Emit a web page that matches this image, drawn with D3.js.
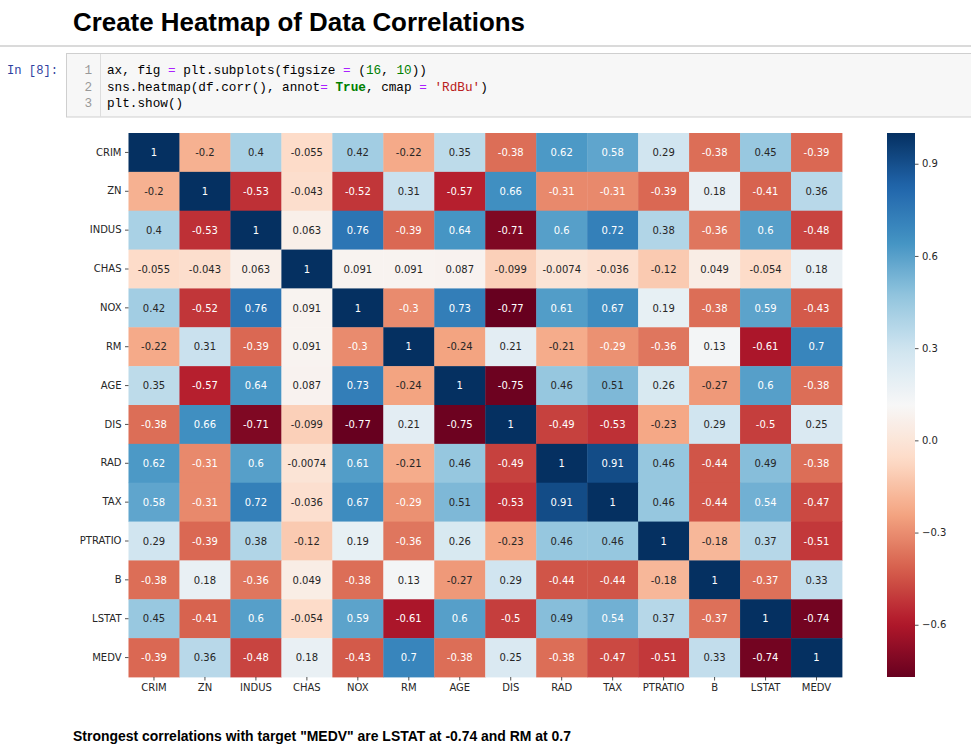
<!DOCTYPE html>
<html>
<head>
<meta charset="utf-8">
<script src="https://cdn.jsdelivr.net/npm/d3@7"></script>
<style>
  html, body { margin: 0; padding: 0; background: #ffffff; }
  svg { display: block; }
</style>
</head>
<body>
<svg id="page" width="971" height="752"></svg>
<script>
// ---------- data ----------
const variables = ["CRIM","ZN","INDUS","CHAS","NOX","RM","AGE","DIS","RAD","TAX","PTRATIO","B","LSTAT","MEDV"];
const corr = [
  [1, -0.2, 0.4, -0.055, 0.42, -0.22, 0.35, -0.38, 0.62, 0.58, 0.29, -0.38, 0.45, -0.39],
  [-0.2, 1, -0.53, -0.043, -0.52, 0.31, -0.57, 0.66, -0.31, -0.31, -0.39, 0.18, -0.41, 0.36],
  [0.4, -0.53, 1, 0.063, 0.76, -0.39, 0.64, -0.71, 0.6, 0.72, 0.38, -0.36, 0.6, -0.48],
  [-0.055, -0.043, 0.063, 1, 0.091, 0.091, 0.087, -0.099, -0.0074, -0.036, -0.12, 0.049, -0.054, 0.18],
  [0.42, -0.52, 0.76, 0.091, 1, -0.3, 0.73, -0.77, 0.61, 0.67, 0.19, -0.38, 0.59, -0.43],
  [-0.22, 0.31, -0.39, 0.091, -0.3, 1, -0.24, 0.21, -0.21, -0.29, -0.36, 0.13, -0.61, 0.7],
  [0.35, -0.57, 0.64, 0.087, 0.73, -0.24, 1, -0.75, 0.46, 0.51, 0.26, -0.27, 0.6, -0.38],
  [-0.38, 0.66, -0.71, -0.099, -0.77, 0.21, -0.75, 1, -0.49, -0.53, -0.23, 0.29, -0.5, 0.25],
  [0.62, -0.31, 0.6, -0.0074, 0.61, -0.21, 0.46, -0.49, 1, 0.91, 0.46, -0.44, 0.49, -0.38],
  [0.58, -0.31, 0.72, -0.036, 0.67, -0.29, 0.51, -0.53, 0.91, 1, 0.46, -0.44, 0.54, -0.47],
  [0.29, -0.39, 0.38, -0.12, 0.19, -0.36, 0.26, -0.23, 0.46, 0.46, 1, -0.18, 0.37, -0.51],
  [-0.38, 0.18, -0.36, 0.049, -0.38, 0.13, -0.27, 0.29, -0.44, -0.44, -0.18, 1, -0.37, 0.33],
  [0.45, -0.41, 0.6, -0.054, 0.59, -0.61, 0.6, -0.5, 0.49, 0.54, 0.37, -0.37, 1, -0.74],
  [-0.39, 0.36, -0.48, 0.18, -0.43, 0.7, -0.38, 0.25, -0.38, -0.47, -0.51, 0.33, -0.74, 1]
];
const cbarTicks = [-0.6, -0.3, 0.0, 0.3, 0.6, 0.9];
const rdbuColors = ["#67001f","#b2182b","#d6604d","#f4a582","#fddbc7","#f7f7f7","#d1e5f0","#92c5de","#4393c3","#2166ac","#053061"];
const titleText = "Create Heatmap of Data Correlations";
const promptText = "In [8]:";
const codeLines = [
  [["ax, fig ","#000"],["=","#AA22FF"],[" plt.subplots(figsize ","#000"],["=","#AA22FF"],[" (","#000"],["16","#008000"],[", ","#000"],["10","#008000"],["))","#000"]],
  [["sns.heatmap(df.corr(), annot","#000"],["=","#AA22FF"],[" ","#000"],["True","#008000","bold"],[", cmap ","#000"],["=","#AA22FF"],[" ","#000"],["'RdBu'","#BA2121"],[")","#000"]],
  [["plt.show()","#000"]]
];
const footerText = "Strongest correlations with target \"MEDV\" are LSTAT at -0.74 and RM at 0.7";

// ---------- page ----------
const svg = d3.select("#page");
const mono = "'Liberation Mono', 'DejaVu Sans Mono', monospace";

svg.append("text").attr("x", 73).attr("y", 31)
  .attr("font-family", "'Liberation Sans', Arial, sans-serif")
  .attr("font-weight", "bold").attr("font-size", 26)
  .attr("textLength", 452).attr("lengthAdjust", "spacingAndGlyphs")
  .attr("fill", "#000").text(titleText);

svg.append("rect").attr("x", 0).attr("y", 45.5).attr("width", 971).attr("height", 1).attr("fill", "#b5b5b5");

// code cell
svg.append("rect").attr("x", 66.5).attr("y", 53.5).attr("width", 920).attr("height", 63.5)
  .attr("fill", "#f7f7f7").attr("stroke", "#cfcfcf").attr("stroke-width", 1);
svg.append("line").attr("x1", 100.5).attr("x2", 100.5).attr("y1", 54).attr("y2", 117)
  .attr("stroke", "#dddddd").attr("stroke-width", 1);

svg.append("text").attr("x", 7).attr("y", 74)
  .attr("font-family", mono).attr("font-size", 12.7)
  .attr("textLength", 51).attr("lengthAdjust", "spacingAndGlyphs")
  .attr("fill", "#303F9F").text(promptText);

const lineBase = [74, 90.7, 107.4];
codeLines.forEach((segs, i) => {
  svg.append("text").attr("x", 92).attr("y", lineBase[i]).attr("text-anchor", "end")
    .attr("font-family", mono).attr("font-size", 12.7).attr("fill", "#999999").text(i + 1);
  const t = svg.append("text").attr("x", 107).attr("y", lineBase[i])
    .attr("font-family", mono).attr("font-size", 12.7).attr("xml:space", "preserve")
    .style("white-space", "pre");
  segs.forEach(s => {
    t.append("tspan").attr("fill", s[1]).attr("font-weight", s[2] || "normal").text(s[0]);
  });
});

// ---------- heatmap ----------
const vmin = d3.min(corr.flat()), vmax = d3.max(corr.flat());
const x = d3.scaleBand().domain(variables).range([128.5, 842]);
const y = d3.scaleBand().domain(variables).range([133, 677]);

const baseCmap = d3.scaleLinear()
  .domain(d3.range(rdbuColors.length).map(i => i / (rdbuColors.length - 1)))
  .range(rdbuColors).interpolate(d3.interpolateRgb);
function color(v) {
  let t = (v - vmin) / (vmax - vmin);
  let k = Math.min(255, Math.max(0, Math.floor(t * 256)));
  return baseCmap(k / 255);
}
function luminance(c) {
  const rgb = d3.rgb(c);
  const lin = [rgb.r, rgb.g, rgb.b].map(u => {
    u = u / 255;
    return u <= 0.03928 ? u / 12.92 : Math.pow((u + 0.055) / 1.055, 2.4);
  });
  return 0.2126 * lin[0] + 0.7152 * lin[1] + 0.0722 * lin[2];
}
const annotFmt = d3.format(".2~g");

const cells = [];
corr.forEach((row, i) => row.forEach((v, j) => cells.push({r: variables[i], c: variables[j], v})));

const g = svg.append("g");
g.selectAll("rect.cell").data(cells).enter().append("rect")
  .attr("class", "cell")
  .attr("x", d => x(d.c)).attr("y", d => y(d.r))
  .attr("width", x.bandwidth() + 0.4).attr("height", y.bandwidth() + 0.4)
  .attr("fill", d => color(d.v));

g.selectAll("text.annot").data(cells).enter().append("text")
  .attr("class", "annot")
  .attr("x", d => x(d.c) + x.bandwidth() / 2)
  .attr("y", d => y(d.r) + y.bandwidth() / 2 + 3.7)
  .attr("text-anchor", "middle")
  .attr("font-family", "'DejaVu Sans', sans-serif").attr("font-size", 10)
  .attr("fill", d => luminance(color(d.v)) > 0.408 ? "#262626" : "#ffffff")
  .text(d => annotFmt(d.v).replace("\u2212", "-"));

const tickColor = "#262626";
function styleAxis(sel) {
  sel.select(".domain").remove();
  sel.selectAll("text").attr("font-family", "'DejaVu Sans', sans-serif").attr("font-size", 10).attr("fill", tickColor);
  sel.selectAll("line").attr("stroke", tickColor).attr("stroke-width", 0.8);
}

svg.append("g").attr("transform", "translate(128.5,0)")
  .call(d3.axisLeft(y).tickSize(3.5).tickPadding(3.5))
  .call(styleAxis);
svg.append("g").attr("transform", "translate(0,677)")
  .call(d3.axisBottom(x).tickSize(3.5).tickPadding(3.5))
  .call(styleAxis);

// ---------- colorbar ----------
const cbX = 887, cbW = 28;
const yc = d3.scaleLinear().domain([vmin, vmax]).range([677, 133]);
const defs = svg.append("defs");
const grad = defs.append("linearGradient").attr("id", "cbgrad")
  .attr("x1", 0).attr("y1", 1).attr("x2", 0).attr("y2", 0);
d3.range(0, 257, 4).forEach(k => {
  const t = Math.min(1, k / 256);
  grad.append("stop").attr("offset", t).attr("stop-color", baseCmap(t));
});
svg.append("rect").attr("x", cbX).attr("y", yc(vmax)).attr("width", cbW)
  .attr("height", yc(vmin) - yc(vmax)).attr("fill", "url(#cbgrad)");
svg.append("g").attr("transform", `translate(${cbX + cbW},0)`)
  .call(d3.axisRight(yc).tickValues(cbarTicks).tickFormat(d3.format(".1f")).tickSize(3.5).tickPadding(3.5))
  .call(styleAxis);

// ---------- footer ----------
svg.append("text").attr("x", 73).attr("y", 741)
  .attr("font-family", "'Liberation Sans', Arial, sans-serif")
  .attr("font-weight", "bold").attr("font-size", 14.5)
  .attr("textLength", 498).attr("lengthAdjust", "spacingAndGlyphs")
  .attr("fill", "#000").text(footerText);
</script>
</body>
</html>
